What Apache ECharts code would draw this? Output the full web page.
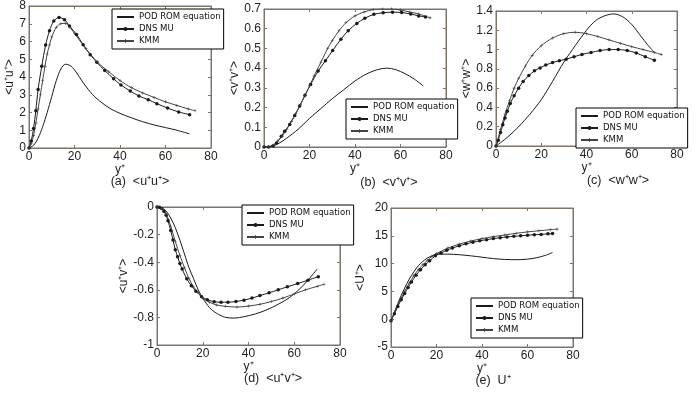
<!DOCTYPE html>
<html>
<head>
<meta charset="utf-8">
<script src="https://cdn.jsdelivr.net/npm/echarts@6/dist/echarts.min.js"></script>
<style>
  html, body { margin: 0; padding: 0; background: #fff; }
  #chart { width: 700px; height: 395px; }
</style>
</head>
<body>
<div id="chart"></div>
<script>
// (a) <u+u+>
const a_pod_x = [0, 2, 4, 6, 8, 10, 12, 14, 16, 18, 20, 24, 28, 32, 36, 40, 45, 50, 55, 60, 65, 70.5];
const a_pod_y = [0, 0.15, 0.55, 1.2, 2.0, 2.9, 3.8, 4.45, 4.72, 4.65, 4.4, 3.65, 3.0, 2.55, 2.2, 1.95, 1.7, 1.48, 1.3, 1.15, 1.0, 0.8];
const a_dns_x = [0, 1, 2, 3, 4, 5.6, 7.3, 9, 10.9, 13.2, 15.6, 17.8, 20.9, 23.8, 26.9, 29.8, 33.3, 37.2, 40.4, 44.5, 48.3, 52.4, 56.2, 60.9, 65.8, 70.6];
const a_dns_y = [0, 0.4, 1.1, 2.1, 3.3, 4.6, 5.8, 6.6, 7.15, 7.35, 7.23, 6.87, 6.4, 5.82, 5.26, 4.83, 4.36, 3.9, 3.55, 3.21, 2.93, 2.72, 2.5, 2.25, 2.03, 1.88];
const a_kmm_x = [0, 1, 2, 3, 4, 5, 6, 7, 8, 9, 10, 12, 14, 16, 18, 20, 25, 30, 35, 40, 45, 50, 55, 60, 65, 70, 73];
const a_kmm_y = [0, 0.25, 0.7, 1.4, 2.2, 3.0, 3.8, 4.6, 5.3, 5.8, 6.25, 6.8, 7.0, 7.02, 6.8, 6.45, 5.6, 4.85, 4.3, 3.8, 3.4, 3.1, 2.85, 2.6, 2.4, 2.2, 2.1];

// (b) <v+v+>
const b_pod_x = [0, 3, 6, 10, 15, 20, 25, 30, 35, 40, 45, 50, 54, 58, 62, 66, 70];
const b_pod_y = [0, 0.002, 0.015, 0.045, 0.09, 0.145, 0.195, 0.245, 0.29, 0.335, 0.37, 0.393, 0.4, 0.392, 0.372, 0.345, 0.31];
const b_dns_x = [0, 2, 4, 5.5, 7.6, 9.1, 11.3, 13.5, 15.7, 18, 20.5, 23.8, 27, 30.2, 33.8, 37, 40.8, 44.3, 48.3, 52.4, 56.5, 60.5, 64.5, 68, 71];
const b_dns_y = [0, 0, 0.005, 0.02, 0.054, 0.08, 0.114, 0.16, 0.208, 0.263, 0.317, 0.385, 0.437, 0.49, 0.546, 0.59, 0.627, 0.653, 0.673, 0.681, 0.684, 0.682, 0.675, 0.665, 0.66];
const b_kmm_x = [0, 2, 4, 6, 8, 10, 12, 14, 16, 18, 20, 22, 25, 28, 30, 33, 36, 40, 44, 48, 52, 56, 60, 64, 68, 73];
const b_kmm_y = [0, 0.002, 0.01, 0.03, 0.055, 0.09, 0.13, 0.17, 0.215, 0.26, 0.31, 0.36, 0.43, 0.5, 0.54, 0.59, 0.63, 0.665, 0.685, 0.697, 0.7, 0.7, 0.695, 0.685, 0.675, 0.655];

// (c) <w+w+>
const c_pod_x = [0, 5, 10, 15, 20, 25, 30, 35, 40, 44, 48, 52, 56, 60, 64, 67, 70];
const c_pod_y = [0, 0.09, 0.2, 0.33, 0.48, 0.67, 0.87, 1.04, 1.2, 1.3, 1.35, 1.37, 1.34, 1.26, 1.14, 1.05, 0.97];
const c_dns_x = [0, 1, 2, 3, 4, 5, 6.3, 8, 10, 12, 14.5, 17, 19.5, 22, 25, 28, 31, 34.5, 38, 42, 46, 50, 54, 58, 62, 66, 70];
const c_dns_y = [0, 0.06, 0.14, 0.22, 0.29, 0.36, 0.44, 0.52, 0.6, 0.67, 0.73, 0.78, 0.81, 0.84, 0.865, 0.885, 0.9, 0.925, 0.95, 0.97, 0.99, 1.0, 1.0, 0.99, 0.965, 0.925, 0.89];
const c_kmm_x = [0, 2, 4, 6, 8, 10, 13, 16, 20, 25, 30, 35, 40, 45, 50, 55, 60, 65, 70, 73];
const c_kmm_y = [0, 0.17, 0.33, 0.47, 0.6, 0.7, 0.83, 0.94, 1.04, 1.12, 1.165, 1.18, 1.165, 1.135, 1.1, 1.065, 1.03, 1.0, 0.97, 0.95];

// (d) <u+v+>
const d_pod_x = [0, 2, 4, 6, 8, 10, 12, 14, 16, 18, 20, 23, 26, 30, 34, 38, 43, 48, 53, 58, 62, 66, 70];
const d_pod_y = [0, -0.005, -0.03, -0.08, -0.15, -0.24, -0.34, -0.44, -0.52, -0.6, -0.66, -0.73, -0.77, -0.8, -0.805, -0.795, -0.775, -0.745, -0.705, -0.655, -0.6, -0.53, -0.45];
const d_dns_x = [0, 1, 2, 3, 4, 4.8, 6, 7, 8, 9, 10, 11, 13, 15, 17, 19.5, 22, 25, 28, 31, 34.5, 38, 41.5, 45, 49, 53, 57, 61.5, 66, 70.5];
const d_dns_y = [0, -0.002, -0.01, -0.03, -0.06, -0.1, -0.17, -0.24, -0.31, -0.36, -0.41, -0.45, -0.52, -0.57, -0.61, -0.65, -0.672, -0.686, -0.69, -0.69, -0.685, -0.675, -0.66, -0.642, -0.622, -0.6, -0.578, -0.555, -0.53, -0.505];
const d_kmm_x = [0, 2, 4, 6, 8, 10, 12, 14, 16, 18, 20, 23, 26, 30, 35, 40, 45, 50, 55, 60, 65, 70, 73];
const d_kmm_y = [0, -0.01, -0.05, -0.14, -0.25, -0.35, -0.44, -0.52, -0.58, -0.62, -0.66, -0.69, -0.71, -0.72, -0.725, -0.718, -0.705, -0.685, -0.66, -0.63, -0.6, -0.575, -0.56];

// (e) U+
const e_pod_x = [0, 2, 4, 6, 8, 10, 12, 14, 16, 18, 20, 22, 25, 30, 35, 40, 45, 50, 55, 60, 64, 68, 71];
const e_pod_y = [-0.3, 1.8, 3.8, 5.6, 7.2, 8.5, 9.6, 10.4, 11.0, 11.4, 11.65, 11.7, 11.7, 11.6, 11.4, 11.15, 10.9, 10.75, 10.7, 10.8, 11.05, 11.5, 12.0];
const e_dns_x = [0, 1.5, 3, 4.5, 6, 7.5, 9, 11, 13, 15, 17, 19.5, 22, 24.5, 27, 30, 33, 36, 39, 42, 45, 48, 51, 54, 57, 60, 63, 66, 69, 71];
const e_dns_y = [-0.3, 1.0, 2.3, 3.5, 4.6, 5.7, 6.7, 7.9, 8.9, 9.8, 10.5, 11.4, 11.9, 12.4, 12.8, 13.2, 13.55, 13.85, 14.1, 14.3, 14.5, 14.65, 14.8, 14.9, 15.0, 15.1, 15.2, 15.25, 15.35, 15.4];
const e_kmm_x = [0, 2, 4, 6, 8, 10, 12, 14, 16, 18, 20, 25, 30, 35, 40, 45, 50, 55, 60, 65, 70, 73];
const e_kmm_y = [-0.3, 1.6, 3.4, 5.0, 6.5, 7.8, 8.9, 9.8, 10.6, 11.3, 11.8, 12.8, 13.5, 14.05, 14.5, 14.85, 15.15, 15.45, 15.7, 15.9, 16.1, 16.2];

const seriesNames = ['POD ROM equation', 'DNS MU', 'KMM'];
const yNames = ['<u\u207Au\u207A>', '<v\u207Av\u207A>', '<w\u207Aw\u207A>', '<u\u207Av\u207A>', '<U\u207A>'];
const captions = ['(a)  <u\u207Au\u207A>', '(b)  <v\u207Av\u207A>', '(c)  <w\u207Aw\u207A>', '(d)  <u\u207Av\u207A>', '(e)  U\u207A'];
const yMin = [0, 0, 0, -1, -5];
const yMax = [8, 0.7, 1.4, 0, 20];
const yStep = [1, 0.1, 0.2, 0.2, 5];

const panels = [
  [[a_pod_x, a_pod_y], [a_dns_x, a_dns_y], [a_kmm_x, a_kmm_y]],
  [[b_pod_x, b_pod_y], [b_dns_x, b_dns_y], [b_kmm_x, b_kmm_y]],
  [[c_pod_x, c_pod_y], [c_dns_x, c_dns_y], [c_kmm_x, c_kmm_y]],
  [[d_pod_x, d_pod_y], [d_dns_x, d_dns_y], [d_kmm_x, d_kmm_y]],
  [[e_pod_x, e_pod_y], [e_dns_x, e_dns_y], [e_kmm_x, e_kmm_y]]
];

const grids = [
  { left: 29, top: 6, width: 182, height: 142 },
  { left: 264, top: 9, width: 182, height: 138 },
  { left: 496, top: 11, width: 181, height: 135 },
  { left: 157, top: 207, width: 183, height: 138 },
  { left: 391, top: 208, width: 182, height: 139 }
];
const yNameGap = [12, 23, 23, 14, 24];
const legendPos = [[112, 9], [346, 99], [576, 108], [242, 205], [471, 298]];
const captionPos = [[140, 175], [389, 176], [618, 174], [273, 372], [493, 374]];

const axisColor = '#7d746c';
const lineColor = '#1a1a1a';
const font = 'Liberation Sans, Arial, sans-serif';
const plus = 'path://M4,0h2v4h4v2h-4v4h-2v-4h-4v-2h4z';

const zip = (xs, ys) => xs.map((x, i) => [x, ys[i]]);

const chart = echarts.init(document.getElementById('chart'));

const axisBase = {
  axisLine: { onZero: false, lineStyle: { color: axisColor } },
  axisTick: { inside: true, length: 3, lineStyle: { color: axisColor } },
  axisLabel: { fontSize: 12, color: '#222', margin: 3, fontFamily: font },
  nameTextStyle: { fontSize: 12, color: '#222', fontFamily: font },
  splitLine: { show: false }
};

const xAxis = [];
const yAxis = [];
grids.forEach((g, i) => {
  xAxis.push(Object.assign({
    type: 'value', gridIndex: i, min: 0, max: 80, interval: 20,
    name: 'y\u207A', nameLocation: 'middle', nameGap: 6
  }, axisBase));
  yAxis.push(Object.assign({
    type: 'value', gridIndex: i, min: yMin[i], max: yMax[i], interval: yStep[i],
    name: yNames[i], nameLocation: 'middle', nameGap: yNameGap[i]
  }, axisBase));
});
// tick marks on the top and right edges of each box
grids.forEach((g, i) => {
  xAxis.push(Object.assign({}, axisBase, {
    type: 'value', gridIndex: i, position: 'top', min: 0, max: 80, interval: 20,
    axisLabel: { show: false }
  }));
  yAxis.push(Object.assign({}, axisBase, {
    type: 'value', gridIndex: i, position: 'right', min: yMin[i], max: yMax[i], interval: yStep[i],
    axisLabel: { show: false }
  }));
});

const series = [];
panels.forEach((p, i) => {
  series.push({
    name: seriesNames[0], type: 'line', xAxisIndex: i, yAxisIndex: i,
    data: zip(p[0][0], p[0][1]), smooth: 0.3, symbol: 'none',
    lineStyle: { color: lineColor, width: 1 }, itemStyle: { color: lineColor }
  });
  series.push({
    name: seriesNames[1], type: 'line', xAxisIndex: i, yAxisIndex: i,
    data: zip(p[1][0], p[1][1]), smooth: 0.3, symbol: 'circle', symbolSize: 3.5,
    lineStyle: { color: lineColor, width: 1 }, itemStyle: { color: lineColor }
  });
  series.push({
    name: seriesNames[2], type: 'line', xAxisIndex: i, yAxisIndex: i,
    data: zip(p[2][0], p[2][1]), smooth: 0.3, symbol: plus, symbolSize: 3,
    lineStyle: { color: '#444', width: 1 }, itemStyle: { color: '#444' }
  });
});

const legend = legendPos.map(([l, t]) => ({
  left: l, top: t, orient: 'vertical',
  data: [
    { name: seriesNames[0], itemStyle: { opacity: 0 } },
    { name: seriesNames[1] },
    { name: seriesNames[2] }
  ],
  itemWidth: 17, itemHeight: 5, itemGap: 2, padding: [3, 3, 3, 4],
  backgroundColor: '#fff', borderColor: '#000', borderWidth: 1,
  textStyle: { fontSize: 9.5, color: '#111', fontFamily: 'Liberation Sans Narrow, DejaVu Sans Condensed, Liberation Sans, sans-serif' },
  selectedMode: false
}));

const graphic = captions.map((c, i) => ({
  type: 'text', x: captionPos[i][0], y: captionPos[i][1],
  style: { text: c, fontSize: 12.5, fill: '#222', fontFamily: font, textAlign: 'center' }
}));

chart.setOption({
  animation: false,
  backgroundColor: '#fff',
  grid: grids.map(g => Object.assign({ show: true, borderColor: axisColor, borderWidth: 1, backgroundColor: '#fff' }, g)),
  xAxis, yAxis, series, legend, graphic
});
</script>
</body>
</html>
